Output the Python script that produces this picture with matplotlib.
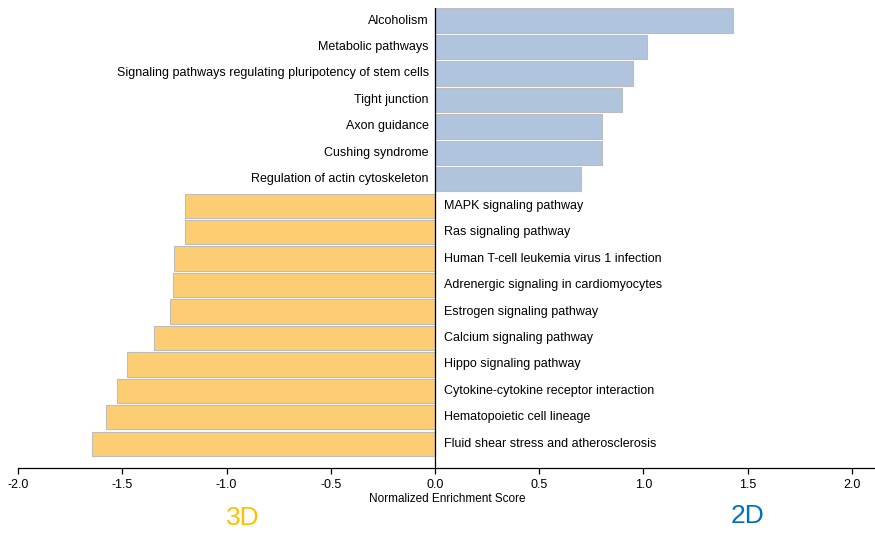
import matplotlib.pyplot as plt

# Pathways ordered top to bottom, with their normalized enrichment scores
pathways = [
    "Alcoholism",
    "Metabolic pathways",
    "Signaling pathways regulating pluripotency of stem cells",
    "Tight junction",
    "Axon guidance",
    "Cushing syndrome",
    "Regulation of actin cytoskeleton",
    "MAPK signaling pathway",
    "Ras signaling pathway",
    "Human T-cell leukemia virus 1 infection",
    "Adrenergic signaling in cardiomyocytes",
    "Estrogen signaling pathway",
    "Calcium signaling pathway",
    "Hippo signaling pathway",
    "Cytokine-cytokine receptor interaction",
    "Hematopoietic cell lineage",
    "Fluid shear stress and atherosclerosis",
]
nes = [1.43, 1.016, 0.952, 0.899, 0.80, 0.80, 0.70,
       -1.199, -1.199, -1.254, -1.257, -1.27, -1.347,
       -1.476, -1.528, -1.577, -1.648]
xticks = [-2.0, -1.5, -1.0, -0.5, 0.0, 0.5, 1.0, 1.5, 2.0]

plt.rcParams['font.family'] = ['Liberation Sans', 'DejaVu Sans']

fig = plt.figure(figsize=(8.75, 5.33), dpi=100)
ax = fig.add_axes([0.0209, 0.122, 0.980, 0.863])

colors = ['#B0C4DE' if v > 0 else '#FDCD74' for v in nes]
ypos = list(range(len(pathways)))
ax.barh(ypos, nes, height=0.92, color=colors, edgecolor='#BDBDBD', linewidth=0.8)

# positive pathways labelled left of zero, negative ones to the right
for y, name, v in zip(ypos, pathways, nes):
    if v > 0:
        ax.text(-0.03, y, name, ha='right', va='center', fontsize=9)
    else:
        ax.text(0.045, y, name, ha='left', va='center', fontsize=9)

ax.axvline(0, color='black', linewidth=0.9)
ax.set_xlim(-2.0, 2.115)
ax.set_ylim(16.915, -0.476)
ax.set_yticks([])
ax.set_xticks(xticks)
ax.set_xticklabels([f"{t:.1f}" for t in xticks], fontsize=9)
ax.tick_params(axis='x', direction='out', length=4, width=0.9, pad=4)
for side in ['top', 'right', 'left']:
    ax.spines[side].set_visible(False)
ax.spines['bottom'].set_linewidth(0.9)
ax.set_xlabel("Normalized Enrichment Score", fontsize=8.5, labelpad=1.5)

fig.text(243 / 875, 1 - 518 / 533, "3D", color='#FFC000', fontsize=19,
         ha='center', va='center')
fig.text(748 / 875, 1 - 516 / 533, "2D", color='#0070C0', fontsize=19,
         ha='center', va='center')

fig.savefig("out.png", dpi=100)
